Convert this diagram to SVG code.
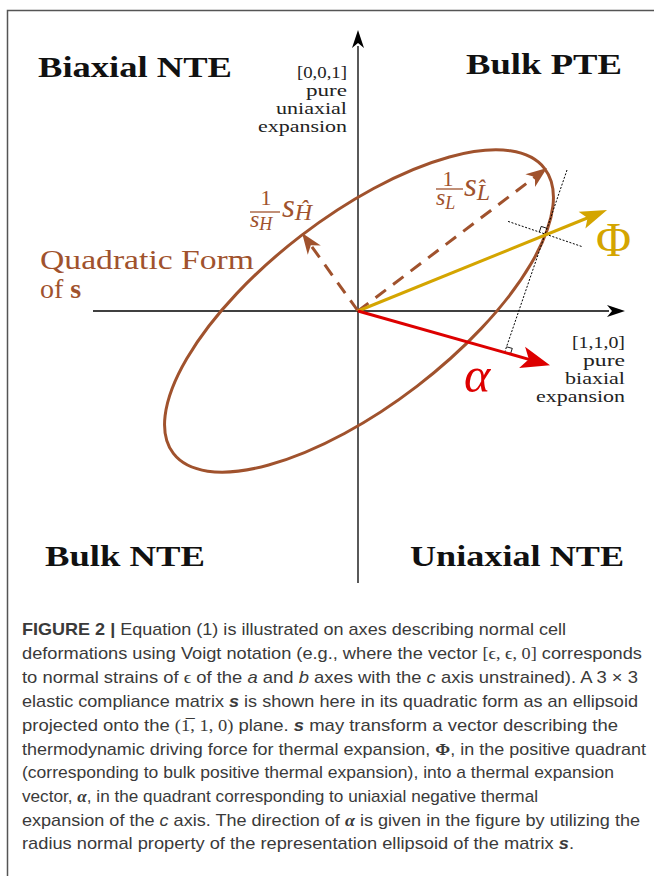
<svg xmlns="http://www.w3.org/2000/svg" width="654" height="876" viewBox="0 0 654 876">
<style>
.frame{fill:none;stroke:#555;stroke-width:1.5}
.axis{stroke:#000;stroke-width:1.3;fill:none}
.quad{font-family:"Liberation Serif","DejaVu Serif",serif;font-weight:bold;font-size:29px;fill:#111}
.ax{font-family:"Liberation Serif","DejaVu Serif",serif;font-size:17px;fill:#222;text-anchor:end}
.br{fill:#A0522D}
.ser{font-family:"Liberation Serif","DejaVu Serif",serif}
.it{font-style:italic}
.cap{font-family:"Liberation Sans",Arial,sans-serif;font-size:17px;fill:#3a3a3a}
.dot{stroke:#000;stroke-width:1;stroke-dasharray:2,1.6;fill:none}
.rt{stroke:#000;stroke-width:0.9;fill:none}
</style>
<defs>
<marker id="mAx" markerUnits="userSpaceOnUse" orient="auto" markerWidth="40" markerHeight="40" refX="0" refY="0" viewBox="-20 -20 40 40" overflow="visible"><path d="M16,0 L-2,-6 L3,0 L-2,6 Z" fill="#000"/></marker>
<marker id="mBr" markerUnits="userSpaceOnUse" orient="auto" markerWidth="40" markerHeight="40" refX="0" refY="0" viewBox="-20 -20 40 40" overflow="visible"><path d="M14,0 L-7,-8 L-1,0 L-7,8 Z" fill="#A0522D"/></marker>
<marker id="mY" markerUnits="userSpaceOnUse" orient="auto" markerWidth="50" markerHeight="50" refX="0" refY="0" viewBox="-25 -25 50 50" overflow="visible"><path d="M20,0 L-7,-9 L-1,0 L-7,9 Z" fill="#D4A500"/></marker>
<marker id="mR" markerUnits="userSpaceOnUse" orient="auto" markerWidth="50" markerHeight="50" refX="0" refY="0" viewBox="-25 -25 50 50" overflow="visible"><path d="M21,0 L-8,-11 L-1,0 L-8,11 Z" fill="#DD0000"/></marker>
</defs>
<rect width="654" height="876" fill="#fff"/>
<path class="frame" d="M654,10.5 H7.5 V876"/>

<g id="quadrants">
<text class="quad" x="38" y="77" textLength="194" lengthAdjust="spacingAndGlyphs">Biaxial NTE</text>
<text class="quad" x="466" y="74" textLength="156" lengthAdjust="spacingAndGlyphs">Bulk PTE</text>
<text class="quad" x="45" y="566" textLength="160" lengthAdjust="spacingAndGlyphs">Bulk NTE</text>
<text class="quad" x="410" y="566" textLength="214" lengthAdjust="spacingAndGlyphs">Uniaxial NTE</text>
</g>

<g id="axes">
<line class="axis" x1="358" y1="583" x2="358" y2="46" marker-end="url(#mAx)"/>
<line class="axis" x1="93" y1="311" x2="609" y2="311" marker-end="url(#mAx)"/>
</g>

<g id="axis-labels">
<text class="ax" x="347" y="78" textLength="50" lengthAdjust="spacingAndGlyphs">[0,0,1]</text>
<text class="ax" x="347" y="96" textLength="41" lengthAdjust="spacingAndGlyphs">pure</text>
<text class="ax" x="347" y="114" textLength="71" lengthAdjust="spacingAndGlyphs">uniaxial</text>
<text class="ax" x="347" y="132" textLength="89" lengthAdjust="spacingAndGlyphs">expansion</text>
<text class="ax" x="625" y="348" textLength="53" lengthAdjust="spacingAndGlyphs">[1,1,0]</text>
<text class="ax" x="625" y="366" textLength="42" lengthAdjust="spacingAndGlyphs">pure</text>
<text class="ax" x="625" y="384" textLength="60" lengthAdjust="spacingAndGlyphs">biaxial</text>
<text class="ax" x="625" y="402" textLength="89" lengthAdjust="spacingAndGlyphs">expansion</text>
</g>

<g id="ellipse">
<ellipse cx="359" cy="311" rx="234" ry="95" transform="rotate(-37.5 359 311)" fill="none" stroke="#A0522D" stroke-width="3"/>
</g>

<g id="quadratic-label">
<text class="ser br" x="40" y="269" font-size="28" textLength="214" lengthAdjust="spacingAndGlyphs">Quadratic Form</text>
<text class="ser br" x="40" y="298" font-size="28">of <tspan font-weight="bold">s</tspan></text>
</g>

<g id="connectors">
<line x1="358" y1="311" x2="535.8" y2="176.4" stroke="#A0522D" stroke-width="3" stroke-dasharray="13,9" marker-end="url(#mBr)"/>
<line x1="358" y1="311" x2="310.2" y2="244.4" stroke="#A0522D" stroke-width="3" stroke-dasharray="13,9" marker-end="url(#mBr)"/>
<line class="dot" x1="567" y1="170" x2="504.6" y2="352.5"/>
<line class="dot" x1="508.1" y1="221.4" x2="582.9" y2="246.9"/>
<path class="rt" d="M539.3,232.1 L541.2,226.4 L546.9,228.3"/>
<path class="rt" d="M510.4,354.1 L512.3,348.4 L506.5,346.8"/>
<line x1="358" y1="311" x2="588.5" y2="217.5" stroke="#D4A500" stroke-width="3" marker-end="url(#mY)"/>
<line x1="358" y1="311" x2="529.8" y2="359.6" stroke="#DD0000" stroke-width="3" marker-end="url(#mR)"/>
</g>

<g id="label-sH">
<text class="ser br" x="266" y="205" font-size="22" text-anchor="middle">1</text>
<line x1="250" y1="212" x2="280" y2="212" stroke="#A0522D" stroke-width="1.3"/>
<text class="ser br it" x="250" y="227" font-size="24">s<tspan font-size="18" dy="3">H</tspan></text>
<text class="ser br it" x="282" y="217" font-size="33">s<tspan font-size="24" dy="3">Ĥ</tspan></text>
</g>

<g id="label-sL">
<text class="ser br" x="448" y="186" font-size="22" text-anchor="middle">1</text>
<line x1="436" y1="189" x2="463" y2="189" stroke="#A0522D" stroke-width="1.3"/>
<text class="ser br it" x="436" y="205" font-size="24">s<tspan font-size="18" dy="4">L</tspan></text>
<text class="ser br it" x="464" y="196" font-size="33">s<tspan font-size="24" dy="4">L̂</tspan></text>
</g>

<g id="label-phi">
<text class="ser" x="596" y="256" font-size="48" fill="#D4A500">Φ</text>
</g>
<g id="label-alpha">
<text class="ser it" x="464" y="392" font-size="50" fill="#DD0000">α</text>
</g>

<g id="caption">
<text class="cap" x="22" y="635" textLength="544" lengthAdjust="spacingAndGlyphs"><tspan font-weight="bold">FIGURE 2 |</tspan> Equation (1) is illustrated on axes describing normal cell</text>
<text class="cap" x="22" y="659" textLength="620" lengthAdjust="spacingAndGlyphs">deformations using Voigt notation (e.g., where the vector <tspan class="ser">[ϵ, ϵ, 0]</tspan> corresponds</text>
<text class="cap" x="22" y="683" textLength="616" lengthAdjust="spacingAndGlyphs">to normal strains of <tspan class="ser">ϵ</tspan> of the <tspan class="it">a</tspan> and <tspan class="it">b</tspan> axes with the <tspan class="it">c</tspan> axis unstrained). A 3 × 3</text>
<text class="cap" x="22" y="707" textLength="616" lengthAdjust="spacingAndGlyphs">elastic compliance matrix <tspan font-weight="bold" class="it">s</tspan> is shown here in its quadratic form as an ellipsoid</text>
<text class="cap" x="22" y="731" textLength="596" lengthAdjust="spacingAndGlyphs">projected onto the <tspan class="ser">(1̅, 1, 0)</tspan> plane. <tspan font-weight="bold" class="it">s</tspan> may transform a vector describing the</text>
<text class="cap" x="22" y="755" textLength="624" lengthAdjust="spacingAndGlyphs">thermodynamic driving force for thermal expansion, <tspan class="ser" font-weight="bold">Φ</tspan>, in the positive quadrant</text>
<text class="cap" x="22" y="778" textLength="592" lengthAdjust="spacingAndGlyphs">(corresponding to bulk positive thermal expansion), into a thermal expansion</text>
<text class="cap" x="22" y="802" textLength="516" lengthAdjust="spacingAndGlyphs">vector, <tspan class="ser it" font-weight="bold">α</tspan>, in the quadrant corresponding to uniaxial negative thermal</text>
<text class="cap" x="22" y="826" textLength="618" lengthAdjust="spacingAndGlyphs">expansion of the <tspan class="it">c</tspan> axis. The direction of <tspan class="ser it" font-weight="bold">α</tspan> is given in the figure by utilizing the</text>
<text class="cap" x="22" y="849" textLength="552" lengthAdjust="spacingAndGlyphs">radius normal property of the representation ellipsoid of the matrix <tspan font-weight="bold" class="it">s</tspan>.</text>
</g>
</svg>
